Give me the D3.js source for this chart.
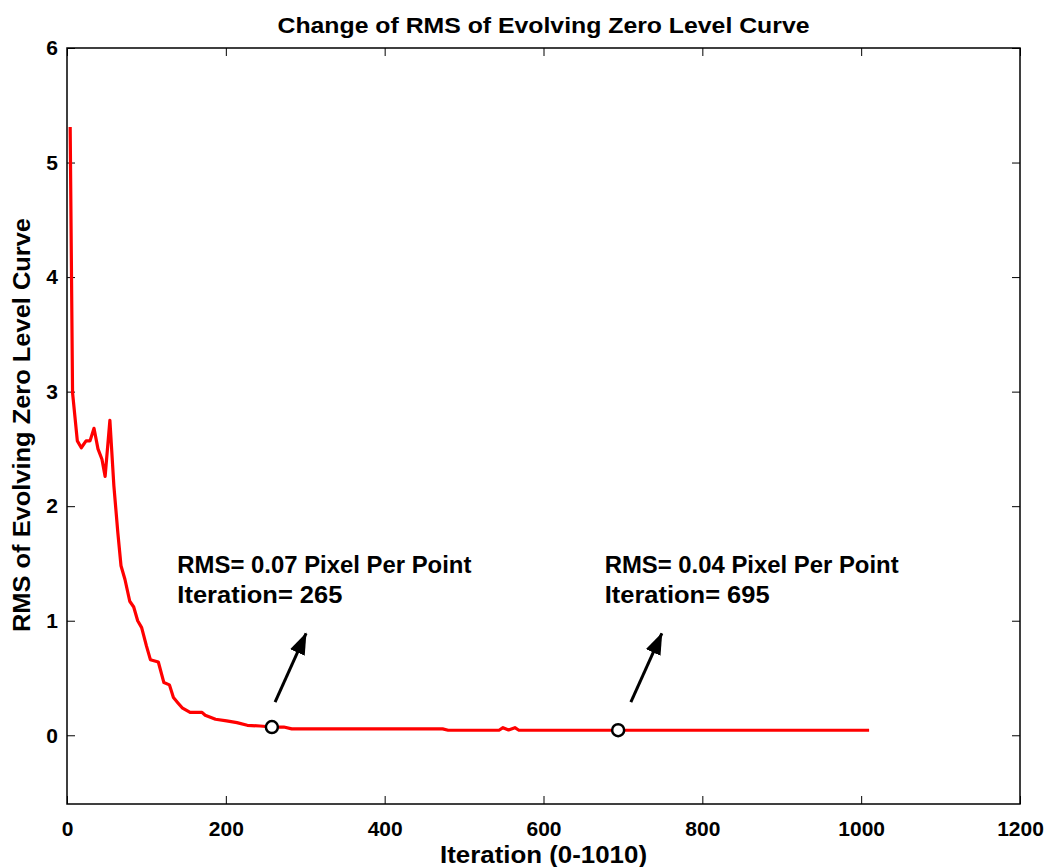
<!DOCTYPE html>
<html>
<head>
<meta charset="utf-8">
<script src="https://cdn.jsdelivr.net/npm/d3@7"></script>
<style>
  html, body { margin: 0; padding: 0; background: #fff; }
  svg { display: block; }
  text { font-family: "Liberation Sans", Arial, Helvetica, sans-serif; font-weight: bold; fill: #000; }
</style>
</head>
<body>
<svg id="chart" width="1052" height="867"></svg>
<script>
// ---- data ----
const iterations = [4,7,13,18,24,29,34,39,44,48,54,59,64,68,73,79,84,89,94,100,105,115,122,129,134,140,145,155,170,174,187,201,214,227,243,258,273,283,473,480,544,549,556,564,569,1010];
const rmsValues  = [5.31,2.99,2.57,2.51,2.57,2.57,2.68,2.50,2.41,2.26,2.75,2.18,1.77,1.48,1.36,1.17,1.12,1.00,0.94,0.78,0.66,0.64,0.46,0.44,0.33,0.28,0.24,0.20,0.20,0.175,0.14,0.125,0.11,0.087,0.081,0.072,0.072,0.056,0.056,0.044,0.044,0.066,0.046,0.066,0.044,0.044];

const xTicks = [0,200,400,600,800,1000,1200];
const yTicks = [0,1,2,3,4,5,6];
const xDomain = [0,1200];
const yDomain = [-0.6,6];

const markerIter = [258, 694];
const markerRms  = [0.072, 0.044];

const annLine1 = ["RMS= 0.07 Pixel Per Point", "RMS= 0.04 Pixel Per Point"];
const annLine2 = ["Iteration= 265", "Iteration= 695"];
const annTextX = [139, 677];
const annTextY = [1.42, 1.42];
const arrowTailX = [262, 710];
const arrowTailY = [0.29, 0.29];
const arrowHeadX = [301, 749];
const arrowHeadY = [0.89, 0.89];

const titleText = "Change of RMS of Evolving Zero Level Curve";
const xLabel = "Iteration (0-1010)";
const yLabel = "RMS of Evolving Zero Level Curve";

// ---- layout ----
const L = 67, R = 1020, T = 48, B = 804;
const svg = d3.select("#chart");
const x = d3.scaleLinear().domain(xDomain).range([L, R]);
const y = d3.scaleLinear().domain(yDomain).range([B, T]);

const fs = 21;

// box
svg.append("rect").attr("x", L).attr("y", T).attr("width", R - L).attr("height", B - T)
  .attr("fill", "none").attr("stroke", "#000").attr("stroke-width", 1.5);

// axes
const gx = svg.append("g").attr("transform", `translate(0,${B})`)
  .call(d3.axisBottom(x).tickValues(xTicks).tickSizeInner(-8).tickSizeOuter(0).tickPadding(17).tickFormat(d3.format("d")));
const gxTop = svg.append("g").attr("transform", `translate(0,${T})`)
  .call(d3.axisTop(x).tickValues(xTicks).tickSizeInner(-8).tickSizeOuter(0).tickFormat(""));
const gy = svg.append("g").attr("transform", `translate(${L},0)`)
  .call(d3.axisLeft(y).tickValues(yTicks).tickSizeInner(-8).tickSizeOuter(0).tickPadding(9).tickFormat(d3.format("d")));
const gyR = svg.append("g").attr("transform", `translate(${R},0)`)
  .call(d3.axisRight(y).tickValues(yTicks).tickSizeInner(-8).tickSizeOuter(0).tickFormat(""));
[gx, gxTop, gy, gyR].forEach(g => {
  g.select(".domain").remove();
  g.selectAll("line").attr("stroke", "#000").attr("stroke-width", 1);
  g.selectAll("text").style("font-size", fs + "px").style("font-family", '"Liberation Sans", Arial, sans-serif').style("font-weight", "bold").attr("fill", "#000");
});

// line
const line = d3.line().x((d, i) => x(iterations[i])).y((d, i) => y(rmsValues[i]));
svg.append("path").datum(rmsValues).attr("d", line)
  .attr("fill", "none").attr("stroke", "#ff0000").attr("stroke-width", 3.2).attr("stroke-linejoin", "round");

// markers
svg.selectAll("circle.mk").data(markerIter).enter().append("circle")
  .attr("cx", (d) => x(d)).attr("cy", (d, i) => y(markerRms[i])).attr("r", 6)
  .attr("fill", "#fff").attr("stroke", "#000").attr("stroke-width", 2.5);

// arrows
const defs = svg.append("defs");
defs.append("marker").attr("id", "ah").attr("viewBox", "0 0 22 16").attr("refX", 21).attr("refY", 8)
  .attr("markerWidth", 22).attr("markerHeight", 16).attr("markerUnits", "userSpaceOnUse").attr("orient", "auto")
  .append("path").attr("d", "M0,0 L22,8 L0,16 Z").attr("fill", "#000");
arrowTailX.forEach((d, i) => {
  svg.append("line")
    .attr("x1", x(d)).attr("y1", y(arrowTailY[i]))
    .attr("x2", x(arrowHeadX[i])).attr("y2", y(arrowHeadY[i]))
    .attr("stroke", "#000").attr("stroke-width", 3).attr("marker-end", "url(#ah)");
});

// annotation texts
annLine1.forEach((t, i) => {
  const tx = svg.append("text").attr("x", x(annTextX[i])).attr("y", y(annTextY[i])).style("font-size", "23px");
  tx.append("tspan").attr("x", x(annTextX[i])).attr("textLength", 294).attr("lengthAdjust", "spacingAndGlyphs").text(t);
  tx.append("tspan").attr("x", x(annTextX[i])).attr("dy", 30).attr("textLength", 165).attr("lengthAdjust", "spacingAndGlyphs").text(annLine2[i]);
});

// title and labels
svg.append("text").attr("x", (L + R) / 2).attr("y", 33).attr("text-anchor", "middle")
  .attr("textLength", 532).attr("lengthAdjust", "spacingAndGlyphs")
  .style("font-size", "22px").text(titleText);
svg.append("text").attr("x", (L + R) / 2).attr("y", 863).attr("text-anchor", "middle")
  .attr("textLength", 207).attr("lengthAdjust", "spacingAndGlyphs")
  .style("font-size", "23px").text(xLabel);
svg.append("text").attr("transform", `translate(30,${(T + B) / 2 - 1}) rotate(-90)`).attr("text-anchor", "middle")
  .attr("textLength", 414).attr("lengthAdjust", "spacingAndGlyphs")
  .style("font-size", "23px").text(yLabel);
</script>
</body>
</html>
